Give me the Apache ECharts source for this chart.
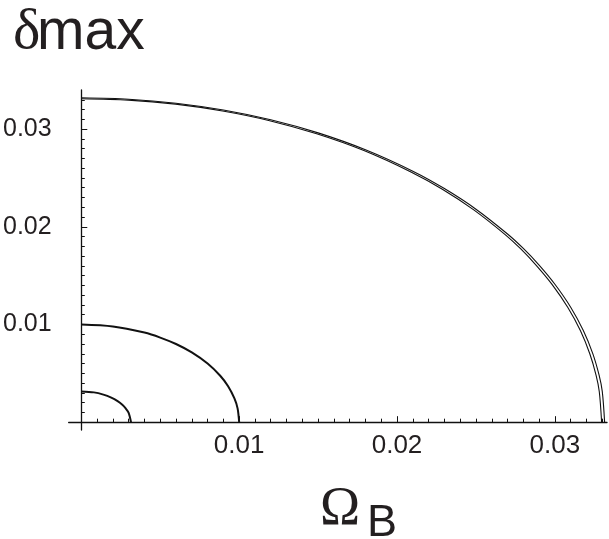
<!DOCTYPE html>
<html>
<head>
<meta charset="utf-8">
<script src="https://cdn.jsdelivr.net/npm/echarts@6/dist/echarts.min.js"></script>
<style>
    html, body { margin: 0; padding: 0; background: #fff; }
    #chart { width: 609px; height: 539px; }
</style>
</head>
<body>
<div id="chart"></div>
<script>
// ticks and labels
var xMajor = [0.01, 0.02, 0.03];
var yMajor = [0.01, 0.02, 0.03];
var xMinor = [0.001, 0.002, 0.003, 0.004, 0.005, 0.006, 0.007, 0.008, 0.009,
    0.011, 0.012, 0.013, 0.014, 0.015, 0.016, 0.017, 0.018, 0.019,
    0.021, 0.022, 0.023, 0.024, 0.025, 0.026, 0.027, 0.028, 0.029,
    0.031, 0.032, 0.033];
var yMinor = xMinor.slice();

// curves [OmegaB, delta max]
var outerA = [[0, 0.0332], [0.003, 0.03306], [0.006, 0.03265], [0.009, 0.03195], [0.012, 0.03095],
    [0.015, 0.02961], [0.018, 0.02788], [0.021, 0.02569], [0.023, 0.02391], [0.025, 0.0218],
    [0.027, 0.01926], [0.028, 0.01778], [0.029, 0.01608], [0.030, 0.01412], [0.031, 0.01177],
    [0.0318, 0.00938], [0.0324, 0.00702], [0.0328, 0.00481], [0.0330, 0.00315], [0.03315, 0]];
var outerB = [[0, 0.0331], [0.00298, 0.03296], [0.00597, 0.03255], [0.00895, 0.03185], [0.01193, 0.03086],
    [0.01491, 0.02952], [0.0179, 0.0278], [0.02088, 0.02561], [0.02287, 0.02384], [0.02486, 0.02173],
    [0.02685, 0.0192], [0.02784, 0.01773], [0.02883, 0.01603], [0.02983, 0.01408], [0.03082, 0.01173],
    [0.03162, 0.00935], [0.03221, 0.007], [0.03261, 0.0048], [0.03281, 0.00314], [0.03296, 0]];
var middle = [[0, 0.01], [0.002, 0.0098], [0.004, 0.00917], [0.005, 0.00866], [0.006, 0.008],
    [0.007, 0.00714], [0.008, 0.006], [0.0088, 0.00475], [0.0093, 0.00368], [0.0097, 0.00243],
    [0.0099, 0.00141], [0.01, 0]];
var small = [[0, 0.00315], [0.0008, 0.00305], [0.0014, 0.00282], [0.0019, 0.00251], [0.0023, 0.00215],
    [0.0026, 0.00178], [0.0028, 0.00144], [0.003, 0.00096], [0.00315, 0]];

var ink = '#231f20';
var sans = 'Liberation Sans';
var serif = 'Liberation Serif';

function curve(data, w) {
    return {
        type: 'line',
        xAxisIndex: 0,
        yAxisIndex: 0,
        data: data,
        smooth: 0.3,
        showSymbol: false,
        symbol: 'none',
        lineStyle: { color: '#111', width: w },
        z: 5
    };
}

var chart = echarts.init(document.getElementById('chart'), null, { renderer: 'canvas' });
chart.setOption({
    animation: false,
    backgroundColor: '#fff',
    grid: { left: 66, top: 90, width: 541, height: 340 },
    xAxis: [{
        type: 'value', min: -0.0008, max: 0.0333, position: 'bottom',
        axisLine: { onZero: true, onZeroAxisIndex: 0, lineStyle: { color: '#111', width: 1.3 } },
        axisTick: { inside: true, length: 6, customValues: xMajor, lineStyle: { color: '#111', width: 1 } },
        axisLabel: {
            customValues: xMajor, margin: 3, color: ink, fontFamily: sans, fontSize: 26,
            formatter: function (v) { return v.toFixed(2); }
        },
        splitLine: { show: false }
    }, {
        type: 'value', min: -0.0008, max: 0.0333, position: 'top',
        axisLine: { show: false, onZero: true, onZeroAxisIndex: 0 },
        axisTick: { inside: false, length: 3.5, customValues: xMinor, lineStyle: { color: '#111', width: 1 } },
        axisLabel: { show: false },
        splitLine: { show: false }
    }],
    yAxis: [{
        type: 'value', min: -0.0008, max: 0.034, position: 'left',
        axisLine: { onZero: true, onZeroAxisIndex: 0, lineStyle: { color: '#111', width: 1.3 } },
        axisTick: { inside: true, length: 6, customValues: yMajor, lineStyle: { color: '#111', width: 1 } },
        axisLabel: {
            customValues: yMajor, margin: 17, color: ink, fontFamily: sans, fontSize: 25,
            formatter: function (v) { return v.toFixed(2); }
        },
        splitLine: { show: false }
    }, {
        type: 'value', min: -0.0008, max: 0.034, position: 'right',
        axisLine: { show: false, onZero: true, onZeroAxisIndex: 0 },
        axisTick: { inside: false, length: 3.5, customValues: yMinor, lineStyle: { color: '#111', width: 1 } },
        axisLabel: { show: false },
        splitLine: { show: false }
    }],
    graphic: [
        { type: 'text', x: 13, y: 33, style: { text: 'δ', font: '58px "' + serif + '"', fill: ink, verticalAlign: 'middle' } },
        { type: 'text', x: 37, y: 33, style: { text: 'max', font: '57px "' + sans + '"', fill: ink, verticalAlign: 'middle' } },
        { type: 'text', x: 320, y: 510, style: { text: 'Ω', font: '54px "' + serif + '"', fill: ink, verticalAlign: 'middle' } },
        { type: 'text', x: 367, y: 524, style: { text: 'B', font: '45px "' + sans + '"', fill: ink, verticalAlign: 'middle' } }
    ],
    series: [
        curve(outerA, 1.1),
        curve(outerB, 1.1),
        curve(middle, 2),
        curve(small, 2)
    ]
});
</script>
</body>
</html>
